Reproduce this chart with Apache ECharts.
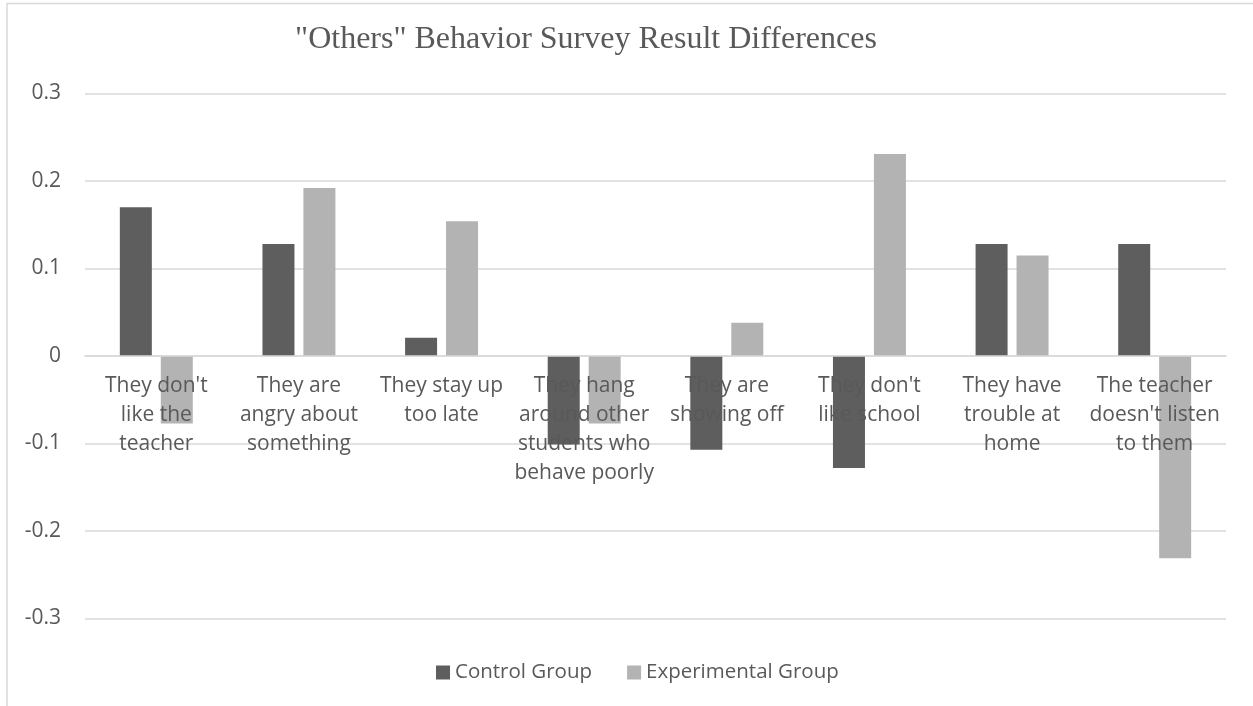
<!DOCTYPE html>
<html>
<head>
<meta charset="utf-8">
<script src="https://cdn.jsdelivr.net/npm/echarts@6/dist/echarts.min.js"></script>
<style>
html,body{margin:0;padding:0;background:#fff;}
#chart{width:1253px;height:706px;}
</style>
</head>
<body>
<div id="chart"></div>
<script>
const titleText = '"Others" Behavior Survey Result Differences';
const categories = [
  "They don't\nlike the\nteacher",
  "They are\nangry about\nsomething",
  "They stay up\ntoo late",
  "They hang\naround other\nstudents who\nbehave poorly",
  "They are\nshowing off",
  "They don't\nlike school",
  "They have\ntrouble at\nhome",
  "The teacher\ndoesn't listen\nto them"
];
const seriesNames = ["Control Group", "Experimental Group"];
const controlGroup = [0.170, 0.128, 0.021, -0.101, -0.107, -0.128, 0.128, 0.128];
const experimentalGroup = [-0.077, 0.192, 0.154, -0.077, 0.038, 0.231, 0.115, -0.231];
const yTicks = {min: -0.3, max: 0.3, interval: 0.1};

const chart = echarts.init(document.getElementById('chart'), null, {renderer: 'canvas'});
const textColor = '#595959';
const font = 'Open Sans';
const gridTop = 93.5, gridHeight = 525;
chart.setOption({
  animation: false,
  backgroundColor: '#fff',
  title: {
    text: titleText,
    left: 581, top: 19, textAlign: 'center',
    textStyle: {fontFamily: 'Liberation Serif', fontSize: 32, fontWeight: 'normal', color: textColor}
  },
  graphic: [
    {type: 'line', shape: {x1: 7, y1: 3.5, x2: 1253, y2: 3.5}, style: {stroke: '#d9d9d9', lineWidth: 1.5}},
    {type: 'line', shape: {x1: 7, y1: 3, x2: 7, y2: 706}, style: {stroke: '#d9d9d9', lineWidth: 1.5}}
  ],
  legend: {
    data: seriesNames,
    left: 431, top: 657,
    itemWidth: 14, itemHeight: 14, itemGap: 35,
    icon: 'rect',
    textStyle: {fontFamily: font, fontSize: 20.5, color: textColor}
  },
  grid: {left: 85, top: gridTop, width: 1141, height: gridHeight, containLabel: false, outerBoundsMode: 'none'},
  xAxis: {
    type: 'category',
    data: categories,
    position: 'bottom',
    z: 10,
    offset: -(gridHeight * (0 - yTicks.min) / (yTicks.max - yTicks.min)),
    axisLine: {onZero: false, lineStyle: {color: '#d9d9d9', width: 1.5}},
    axisTick: {show: false},
    axisLabel: {
      interval: 0, margin: 16,
      fontFamily: font, fontSize: 21, color: textColor, lineHeight: 29,
      align: 'center'
    }
  },
  yAxis: {
    type: 'value',
    min: yTicks.min, max: yTicks.max, interval: yTicks.interval,
    axisLine: {show: false},
    axisTick: {show: false},
    splitLine: {lineStyle: {color: '#d9d9d9', width: 1.5}},
    axisLabel: {
      margin: 24,
      fontFamily: font, fontSize: 21, color: textColor,
      formatter: v => {
        const r = Math.round(v * 10) / 10;
        return r === 0 ? '0' : String(r);
      }
    }
  },
  series: [
    {name: seriesNames[0], type: 'bar', data: controlGroup, barWidth: 32, barGap: '28%', itemStyle: {color: '#5e5e5e'}, z: 1},
    {name: seriesNames[1], type: 'bar', data: experimentalGroup, barWidth: 32, itemStyle: {color: '#b3b3b3'}, z: 1}
  ]
});
</script>
</body>
</html>
